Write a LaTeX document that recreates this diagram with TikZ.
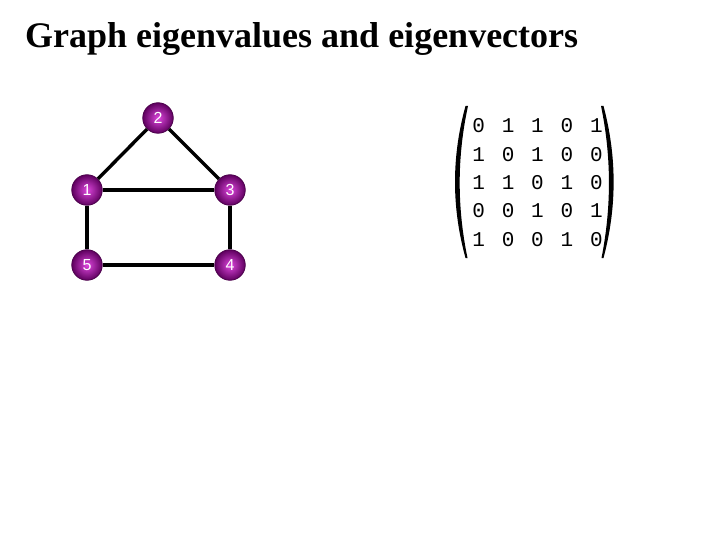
\documentclass[tikz,border=0pt]{standalone}
\usepackage{fontspec}
\setmainfont{Liberation Serif}
\setsansfont{Liberation Sans}
\setmonofont{Liberation Mono}
\begin{document}
\begin{tikzpicture}[x=1pt,y=-1pt,
  vert/.style={circle,minimum size=30.5pt,inner sep=0pt,shading=radial,
    inner color={rgb,255:red,220;green,70;blue,220},outer color={rgb,255:red,95;green,0;blue,95},
    draw={rgb,255:red,75;green,0;blue,75},line width=0.8pt,
    text=white,font=\sffamily\fontsize{16}{16}\selectfont},
  edge/.style={line width=3.4pt,black},
  digit/.style={font=\ttfamily\fontsize{21}{21}\selectfont,inner sep=0pt,anchor=base}]
\useasboundingbox (0,0) rectangle (720,540);
\node[anchor=base west,font=\bfseries\fontsize{36}{36}\selectfont,inner sep=0pt] (title) at (25,48) {Graph eigenvalues and eigenvectors};
% graph
\node[vert] (v2) at (158,118) {2};
\node[vert] (v1) at (87,190) {1};
\node[vert] (v3) at (230,190) {3};
\node[vert] (v5) at (87,265) {5};
\node[vert] (v4) at (230,265) {4};
\draw[edge] (v1) -- (v2);
\draw[edge] (v2) -- (v3);
\draw[edge] (v1) -- (v3);
\draw[edge] (v1) -- (v5);
\draw[edge] (v3) -- (v4);
\draw[edge] (v5) -- (v4);
% matrix
\foreach \r/\row in {1/{0,1,1,0,1},2/{1,0,1,0,0},3/{1,1,0,1,0},4/{0,0,1,0,1},5/{1,0,0,1,0}}{
  \foreach \d [count=\c] in \row {
    \node[digit] (m-\r-\c) at ({449.3+29.4*\c},{104.7+28.3*\r}) {\d};
  }
}
% parentheses
\fill (465.5,106) .. controls (451.5,156.7) and (451.5,207.3) .. (465.5,258)
  -- (467.5,258) .. controls (457,207.3) and (457,156.7) .. (468,106) -- cycle;
\fill (603.5,106) .. controls (617,156.7) and (617,207.3) .. (603.5,258)
  -- (601.5,258) .. controls (611.5,207.3) and (611.5,156.7) .. (601,106) -- cycle;
\end{tikzpicture}
\end{document}
